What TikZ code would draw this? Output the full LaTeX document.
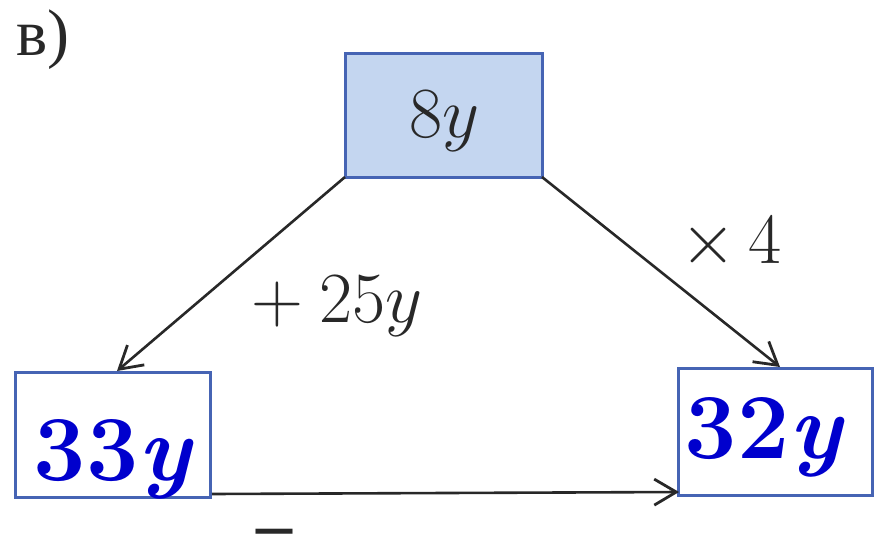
\RequirePackage{fix-cm}
\documentclass[tikz,border=0pt]{standalone}
\usepackage{fontspec}
\newfontfamily\cyrfont{Liberation Serif}
\usetikzlibrary{arrows.meta}
\definecolor{boxblue}{RGB}{70,100,180}
\definecolor{fillblue}{RGB}{196,214,240}
\definecolor{inkblue}{RGB}{0,0,205}
\definecolor{ink}{RGB}{40,40,40}
\tikzset{
  valbox/.style={draw=boxblue, line width=3pt},
  conn/.style={draw=ink, line width=2.6pt, -{Straight Barb[length=22pt,width=26pt,line width=2.8pt]}},
  lbl/.style={font=\fontsize{72}{84}\selectfont, text=ink, inner sep=0pt, anchor=base},
  hand/.style={font=\fontsize{93}{105}\selectfont\bfseries, text=inkblue, inner sep=0pt, anchor=base}
}
\begin{document}
\begin{tikzpicture}[x=1pt,y=-1pt]
\useasboundingbox (0,0) rectangle (875,549);
% boxes
\path[valbox, fill=fillblue] (345,53) rectangle (542,177);
\coordinate (tl) at (345,177);
\coordinate (tr) at (542,177);
\path[valbox, fill=white] (15,372) rectangle (210,497);
\path[valbox, fill=white] (678,368) rectangle (872,495);
\coordinate (lt) at (117,371);
\coordinate (rt) at (780,367);
\coordinate (lr) at (212,494);
\coordinate (rl) at (679,492);
% texts
\node[lbl] (top) at (444,137) {$8y$};
\node[hand] (left) at (114,480) {33\textit{y}};
\node[hand] (right) at (765,458) {32\textit{y}};
\node[lbl] (plus) at (337,322) {${+}\mskip4mu 25y$};
\node[lbl] (times) at (731,263) {$\times\mskip3mu 4$};
\node[font=\fontsize{72}{80}\cyrfont\bfseries, text=ink, inner sep=0pt, anchor=base] (minus) at (274,548) {\smash{–}};
\node[font=\fontsize{66}{76}\cyrfont, text=ink, inner sep=0pt, anchor=base west] (lab) at (16,55) {в)};
% connectors
\draw[conn] (tl) -- (lt);
\draw[conn] (tr) -- (rt);
\draw[conn] (lr) -- (rl);
\end{tikzpicture}
\end{document}
